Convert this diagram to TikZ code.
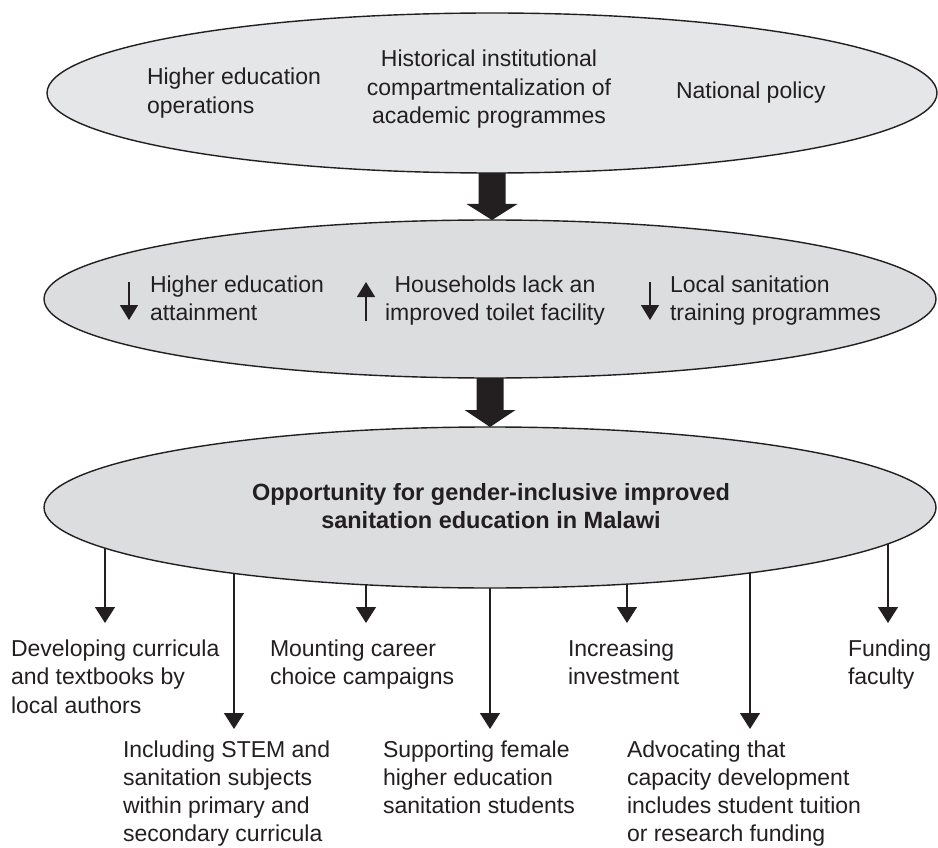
\documentclass[tikz,border=0pt]{standalone}
\usepackage{fontspec}
\setmainfont{Liberation Sans}
\usetikzlibrary{shapes.geometric,arrows.meta,backgrounds,calc}
\definecolor{ink}{HTML}{231F20}
\definecolor{fillA}{HTML}{E5E6E7}
\definecolor{fillB}{HTML}{DCDDDF}
\newcommand{\fstrut}{\rule{0pt}{17pt}}
\begin{document}
\begin{tikzpicture}[x=1pt,y=-1pt,
  ell/.style={ellipse, draw=ink, line width=1.4pt, inner sep=0pt, outer sep=0pt},
  lbl/.style={font=\fontsize{23pt}{28.5pt}\selectfont, text=ink, inner sep=0pt, outer sep=0pt},
  lbll/.style={lbl, align=left, anchor=north west},
  lbllow/.style={lbll, font=\fontsize{23pt}{28pt}\selectfont},
  lblc/.style={lbl, align=center, anchor=north},
  arr/.style={draw=ink, line width=1.4pt, -{Triangle[width=20pt,length=16pt]}},
  sarr/.style={draw=ink, line width=1.4pt, -{Triangle[width=18pt,length=15pt]}},
  bigarrow/.style={fill=ink},
]
\useasboundingbox (0,0) rectangle (938,848);

% ellipses
\node[ell, fill=fillA, minimum width=890pt, minimum height=160pt] (e1) at (492,93) {};
\node[ell, fill=fillB, minimum width=892pt, minimum height=158pt] (e2) at (490,299) {};
\node[ell, fill=fillB, minimum width=892pt, minimum height=161pt] (e3) at (490,507.5) {};

% top ellipse texts
\node[lbll] (t1) at (147,68) {\fstrut Higher education\\operations};
\node[lblc] (t2) at (489,50) {\fstrut Historical institutional\\compartmentalization of\\academic programmes};
\node[lbll] (t3) at (676,82) {\fstrut National policy};

% middle ellipse texts
\node[lbll] (m1) at (150,275) {\fstrut Higher education\\attainment};
\node[lblc] (m2) at (495,275) {\fstrut Households lack an\\improved toilet facility};
\node[lbll] (m3) at (670,275) {\fstrut Local sanitation\\training programmes};

\coordinate (m1a) at (129,282); \coordinate (m1b) at (129,320);
\coordinate (m2a) at (366,321); \coordinate (m2b) at (366,282);
\coordinate (m3a) at (650,282); \coordinate (m3b) at (650,320);
\draw[sarr] (m1a) -- (m1b);
\draw[sarr] (m2a) -- (m2b);
\draw[sarr] (m3a) -- (m3b);

% bottom ellipse text
\node[lblc, font=\fontsize{23.5pt}{28.5pt}\selectfont\bfseries] (b0) at (491,483) {\fstrut Opportunity for gender-inclusive improved\\sanitation education in Malawi};

% big arrows
\fill[bigarrow] let \p1=(e1.south), \p2=(e2.north) in
  (\x1-13.5pt,\y1) -- (\x1-13.5pt,\y2+16pt) -- (\x1-25.5pt,\y2+16pt) -- (\x1,\y2)
  -- (\x1+25.5pt,\y2+16pt) -- (\x1+13.5pt,\y2+16pt) -- (\x1+13.5pt,\y1) -- cycle;
\fill[bigarrow] let \p1=(e2.south), \p2=(e3.north) in
  (\x1-13.5pt,\y1) -- (\x1-13.5pt,\y2+17pt) -- (\x1-25.5pt,\y2+17pt) -- (\x1,\y2)
  -- (\x1+25.5pt,\y2+17pt) -- (\x1+13.5pt,\y2+17pt) -- (\x1+13.5pt,\y1) -- cycle;

% outcome texts
\node[lbll] (o1) at (11,639) {\fstrut Developing curricula\\and textbooks by\\local authors};
\node[lbllow] (o2) at (123,740) {\fstrut Including STEM and\\sanitation subjects\\within primary and\\secondary curricula};
\node[lbll] (o3) at (270,639) {\fstrut Mounting career\\choice campaigns};
\node[lbllow] (o4) at (383,740) {\fstrut Supporting female\\higher education\\sanitation students};
\node[lbll] (o5) at (568,639) {\fstrut Increasing\\investment};
\node[lbllow] (o6) at (627,740) {\fstrut Advocating that\\capacity development\\includes student tuition\\or research funding};
\node[lbll] (o7) at (848,639) {\fstrut Funding\\faculty};

% arrow tips
\coordinate (p1) at (105,623);
\coordinate (p2) at (234,729);
\coordinate (p3) at (366,623);
\coordinate (p4) at (490,729);
\coordinate (p5) at (627,623);
\coordinate (p6) at (750,729);
\coordinate (p7) at (888,623);

\begin{scope}[on background layer]
  \foreach \i in {1,...,7} {
    \draw[arr] (e3.center -| p\i) -- (p\i);
  }
\end{scope}
\end{tikzpicture}
\end{document}
